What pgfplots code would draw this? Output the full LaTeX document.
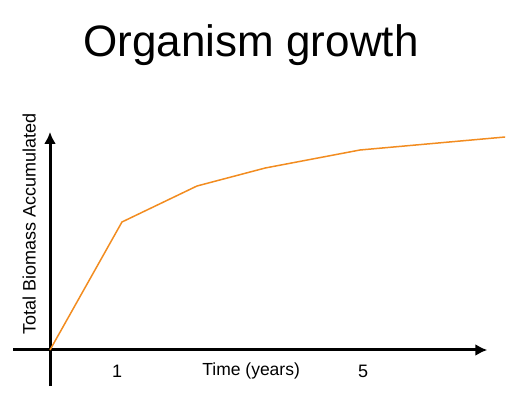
\documentclass[border=0pt]{standalone}
\usepackage{fontspec}
\setmainfont{Liberation Sans}
\usepackage{pgfplots}
\pgfplotsset{compat=1.18}
\usetikzlibrary{arrows.meta}
\definecolor{lineorange}{RGB}{242,140,32}
\begin{document}
\begin{tikzpicture}
\useasboundingbox (0,0) rectangle (520bp,394bp);
\begin{axis}[
  at={(50bp,44bp)}, anchor=origin,
  scale only axis,
  xmin=-0.6, xmax=7.11, ymin=-3.6, ymax=21.8,
  width=474.2bp, height=254bp,
  axis lines=middle,
  axis line style={line width=3bp},
  every inner x axis line/.append style={-{Latex[length=12bp,width=12bp]}},
  every inner y axis line/.append style={-{Latex[length=12bp,width=12bp]}},
  xtick={1.09,5.09}, xticklabels={1,5},
  ytick=\empty,
  major tick length=0pt,
  xticklabel style={font=\fontsize{18bp}{20bp}\selectfont, yshift=-12bp},
  /pgf/number format/assume math mode=true,
  clip=false,
]
\addplot[color=lineorange, line width=1.5bp] coordinates {
  (0,0) (1.17,12.8) (2.39,16.4) (3.50,18.2) (5.04,20.0) (7.40,21.3)
};
\node[font=\fontsize{17.5bp}{20bp}\selectfont] at (axis cs:3.27,-2.1) {Time (years)};
\node[font=\fontsize{18bp}{20bp}\selectfont, rotate=90] at (axis cs:-0.34,12.6) {Total Biomass Accumulated};
\node[font=\fontsize{44bp}{50bp}\selectfont, anchor=base, inner sep=0pt] at (axis cs:3.27,29.3) {Organism growth};
\end{axis}
\end{tikzpicture}
\end{document}
